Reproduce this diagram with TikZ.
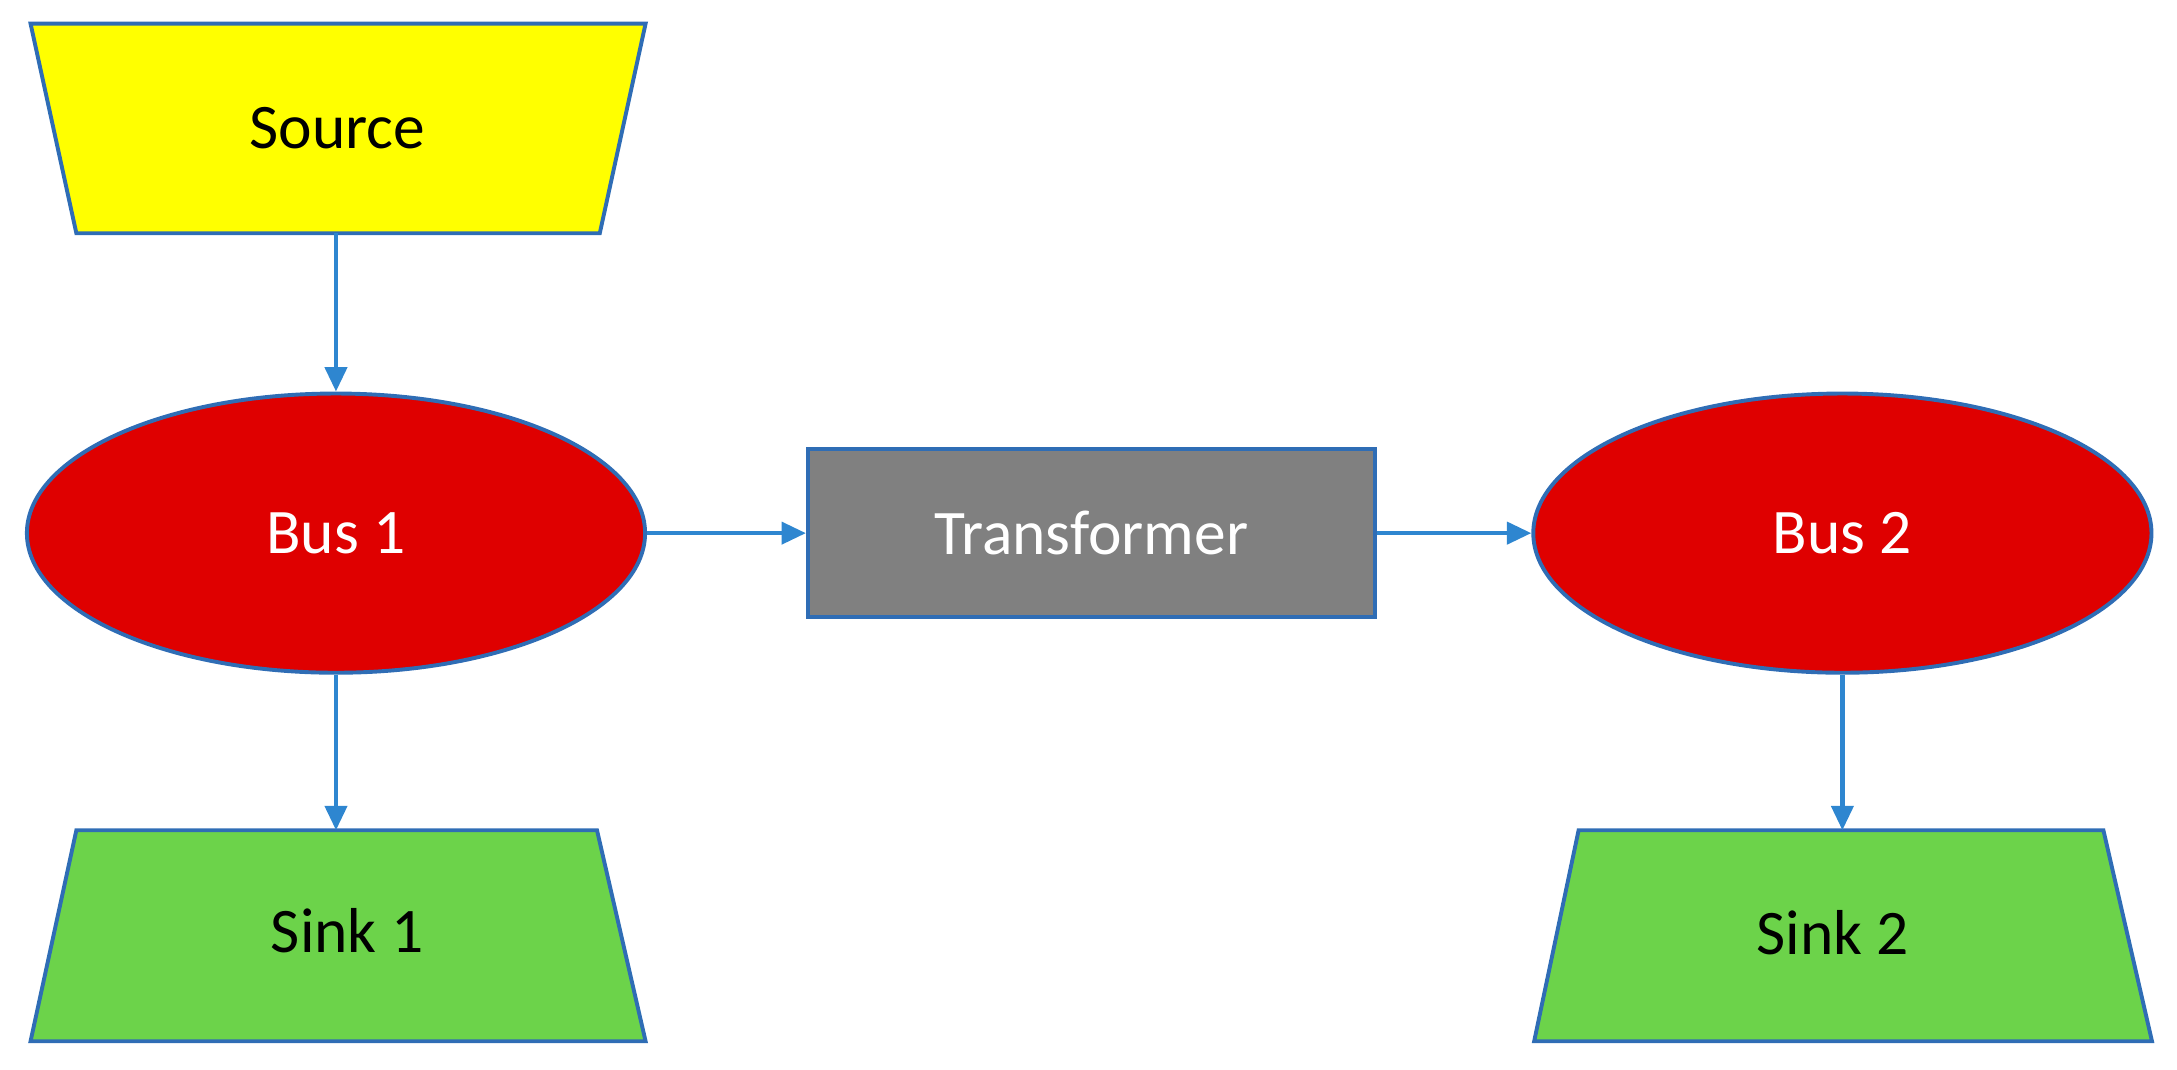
\documentclass[tikz,border=0pt]{standalone}
\usepackage{fontspec}
\setmainfont{Carlito}
\usetikzlibrary{shapes.geometric,arrows.meta}
\definecolor{edge}{HTML}{2F6DB5}
\definecolor{arr}{HTML}{2E86D0}
\definecolor{ygold}{HTML}{FFFF00}
\definecolor{bred}{HTML}{DF0000}
\definecolor{tgray}{HTML}{808080}
\definecolor{sgreen}{HTML}{6CD34A}
\begin{document}
\begin{tikzpicture}[x=0.01cm,y=-0.01cm,
  shp/.style={draw=edge,line width=0.8pt},
  lbl/.style={font=\fontsize{13}{15}\selectfont},
  conn/.style={draw=arr,line width=0.9pt,-{Triangle[length=5pt,width=4.5pt]}}]
\useasboundingbox (0,0) rectangle (1568,770);
% Source
\draw[shp,fill=ygold] (22,17) -- (465,17) -- (432,168) -- (55,168) -- cycle;
\node[lbl] (src) at (243,92) {Source};
\coordinate (srcb) at (242,168);
% Buses
\node[shp,fill=bred,ellipse,minimum width=4.45cm,minimum height=2.01cm,text=white,lbl] (bus1) at (242,384) {Bus 1};
\node[shp,fill=bred,ellipse,minimum width=4.45cm,minimum height=2.01cm,text=white,lbl] (bus2) at (1327,384) {Bus 2};
% Transformer
\node[shp,fill=tgray,minimum width=4.08cm,minimum height=1.21cm,text=white,lbl] (tr) at (786,384) {Transformer};
% Sinks
\draw[shp,fill=sgreen] (55,598) -- (430,598) -- (465,750) -- (22,750) -- cycle;
\node[lbl] (s1) at (250,670) {Sink 1};
\coordinate (s1t) at (242,598);
\draw[shp,fill=sgreen] (1137,598) -- (1515,598) -- (1550,750) -- (1105,750) -- cycle;
\node[lbl] (s2) at (1320,672) {Sink 2};
\coordinate (s2t) at (1327,598);
% Connectors
\draw[conn] (srcb) -- (bus1.north);
\draw[conn] (bus1.south) -- (s1t);
\draw[conn] (bus1.east) -- (tr.west);
\draw[conn] (tr.east) -- (bus2.west);
\draw[conn] (bus2.south) -- (s2t);
\end{tikzpicture}
\end{document}
